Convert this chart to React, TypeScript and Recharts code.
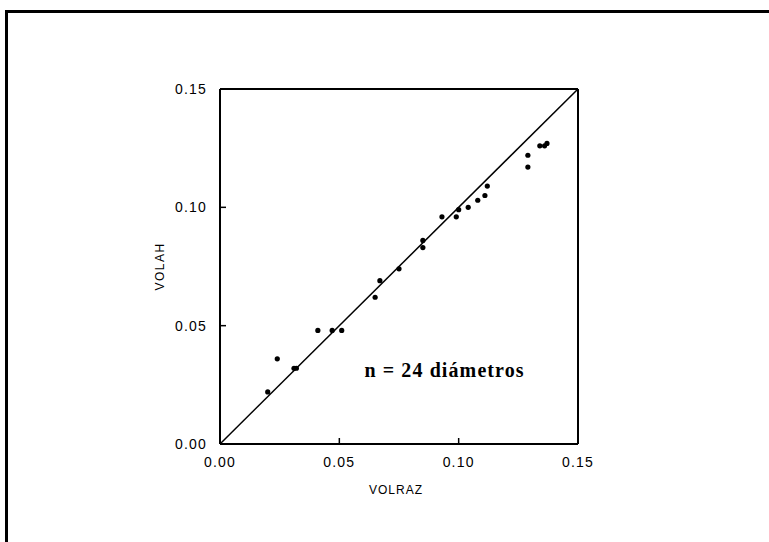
import { ScatterChart, Scatter, XAxis, YAxis, ReferenceLine, ReferenceDot } from 'recharts';

// VOLRAZ (x) vs VOLAH (y), 24 diameters
const volraz = [
  0.020, 0.024, 0.031, 0.032, 0.041, 0.047, 0.051, 0.065, 0.067, 0.075, 0.085, 0.085,
  0.093, 0.099, 0.100, 0.104, 0.108, 0.111, 0.112, 0.129, 0.129, 0.134, 0.136, 0.137,
];
const volah = [
  0.022, 0.036, 0.032, 0.032, 0.048, 0.048, 0.048, 0.062, 0.069, 0.074, 0.083, 0.086,
  0.096, 0.096, 0.099, 0.100, 0.103, 0.105, 0.109, 0.117, 0.122, 0.126, 0.126, 0.127,
];

const axisTicks = [0, 0.05, 0.1, 0.15];
const axisDomain = [0, 0.15];
// 1:1 line
const diagonal = [0, 0.15];

const annotation = 'n = 24 diámetros';
const annotationAt = { x: 0.0941, y: 0.0313 };

const points = volraz.map((x, i) => ({ x, y: volah[i] }));

const sans = '"Liberation Sans", Arial, Helvetica, sans-serif';
const tickStyle = { fontSize: 14, fill: '#000', fontFamily: sans, letterSpacing: 1.2 };
const axisLine = { stroke: '#000', strokeWidth: 2 };
const tickLine = { stroke: '#000', strokeWidth: 1.5 };
const fmt = (v: number) => v.toFixed(2);

function Dot(props: any) {
  return <circle cx={props.cx} cy={props.cy} r={2.6} fill="#000" />;
}

export default function App() {
  return (
    <div style={{ position: 'absolute', left: 0, top: 0, width: 769, height: 542, background: '#fff' }}>
      <div
        style={{
          position: 'absolute',
          left: 5,
          top: 10,
          right: 0,
          bottom: 0,
          borderLeft: '3px solid #000',
          borderTop: '3px solid #000',
        }}
      />
      <ScatterChart
        width={769}
        height={542}
        margin={{ top: 79, right: 181, bottom: 68, left: 160 }}
        style={{ position: 'absolute', left: 0, top: 0 }}
      >
        <XAxis
          type="number"
          dataKey="x"
          domain={axisDomain}
          ticks={axisTicks}
          tickFormatter={fmt}
          height={30}
          tickSize={-6}
          tickMargin={19}
          axisLine={axisLine}
          tickLine={tickLine}
          tick={tickStyle}
          label={{
            content: (p: any) => {
              const vb = p.viewBox || {};
              return (
                <text
                  x={(vb.x ?? 220) + (vb.width ?? 358) / 2 - 3}
                  y={(vb.y ?? 444) + 46}
                  textAnchor="middle"
                  dominantBaseline="central"
                  fontSize={12}
                  fontFamily={sans}
                  letterSpacing={1}
                  fill="#000"
                >
                  VOLRAZ
                </text>
              );
            },
          }}
        />
        <XAxis
          xAxisId="top"
          orientation="top"
          type="number"
          dataKey="x"
          domain={axisDomain}
          ticks={axisTicks}
          height={10}
          tickSize={-6}
          tick={false}
          axisLine={axisLine}
          tickLine={tickLine}
        />
        <YAxis
          type="number"
          dataKey="y"
          domain={axisDomain}
          ticks={axisTicks}
          tickFormatter={fmt}
          width={60}
          tickSize={-6}
          tickMargin={19}
          axisLine={axisLine}
          tickLine={tickLine}
          tick={tickStyle}
          label={{
            content: (p: any) => {
              const vb = p.viewBox || {};
              const cx = vb.x ?? 160;
              const cy = (vb.y ?? 89) + (vb.height ?? 355) / 2;
              return (
                <text
                  x={cx}
                  y={cy}
                  transform={`rotate(-90 ${cx} ${cy})`}
                  textAnchor="middle"
                  dominantBaseline="central"
                  fontSize={12}
                  fontFamily={sans}
                  letterSpacing={1.5}
                  fill="#000"
                >
                  VOLAH
                </text>
              );
            },
          }}
        />
        <YAxis
          yAxisId="right"
          orientation="right"
          type="number"
          dataKey="y"
          domain={axisDomain}
          ticks={axisTicks}
          width={10}
          tickSize={-6}
          tick={false}
          axisLine={axisLine}
          tickLine={tickLine}
        />
        <ReferenceLine
          segment={[
            { x: diagonal[0], y: diagonal[0] },
            { x: diagonal[1], y: diagonal[1] },
          ]}
          stroke="#000"
          strokeWidth={1.5}
        />
        <Scatter data={points} fill="#000" shape={Dot} isAnimationActive={false} />
        <ReferenceDot
          x={annotationAt.x}
          y={annotationAt.y}
          r={0}
          fill="none"
          stroke="none"
          label={{
            value: annotation,
            position: 'center',
            fontSize: 20,
            fontWeight: 'bold',
            fontFamily: '"Liberation Serif", "Times New Roman", serif',
            letterSpacing: 1.1,
            fill: '#000',
          }}
        />
      </ScatterChart>
    </div>
  );
}
